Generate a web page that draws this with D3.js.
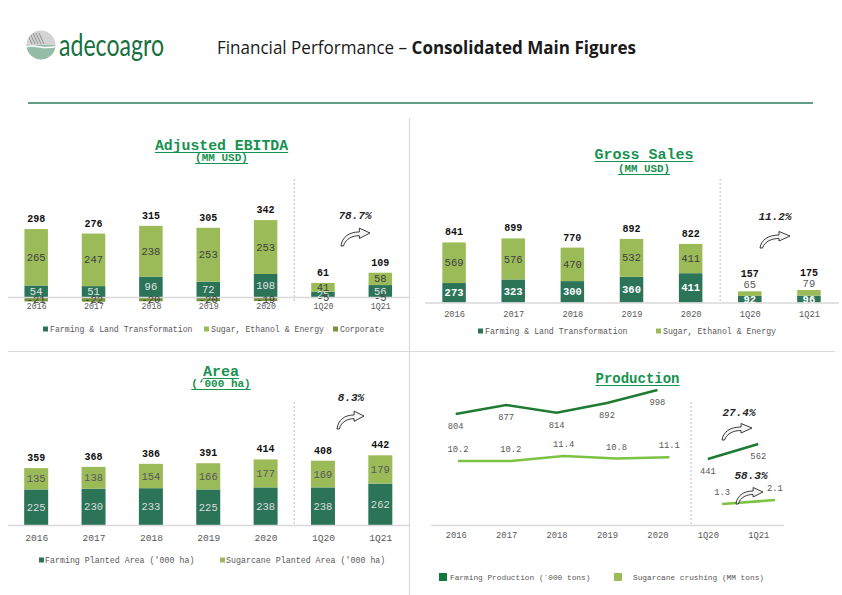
<!DOCTYPE html>
<html><head><meta charset="utf-8">
<script src="https://cdn.jsdelivr.net/npm/d3@7/dist/d3.min.js"></script>
<style>body{margin:0;background:#fff}svg{display:block}</style>
</head><body>
<svg id="c" width="842" height="595"></svg>
<script>
// ---------------- DATA ----------------
const periods = ["2016","2017","2018","2019","2020","1Q20","1Q21"];
// Adjusted EBITDA (MM USD)
const ebitdaFarming   = [54, 51, 96, 72, 108, 25, 56];
const ebitdaSugar     = [265, 247, 238, 253, 253, 41, 58];
const ebitdaCorporate = [-21, -22, -20, -20, -19, -5, -5];
const ebitdaTotal     = [298, 276, 315, 305, 342, 61, 109];
const ebitdaGrowth = "78.7%";
// Gross Sales (MM USD)
const salesFarming = [273, 323, 300, 360, 411, 92, 96];
const salesSugar   = [569, 576, 470, 532, 411, 65, 79];
const salesTotal   = [841, 899, 770, 892, 822, 157, 175];
const salesGrowth = "11.2%";
// Area ('000 ha)
const areaFarming   = [225, 230, 233, 225, 238, 238, 262];
const areaSugarcane = [135, 138, 154, 166, 177, 169, 179];
const areaTotal     = [359, 368, 386, 391, 414, 408, 442];
const areaGrowth = "8.3%";
// Production
const farmingProduction = [804, 877, 814, 892, 998, 441, 562];
const sugarcaneCrushing = [10.2, 10.2, 11.4, 10.8, 11.1, 1.3, 2.1];
const farmingGrowth = "27.4%";
const crushingGrowth = "58.3%";

// ---------------- STYLE ----------------
const C = {
  dark: "#2b7458", light: "#9bbb59", corp: "#77933c",
  title: "#16924f", axis: "#d9d9d9", grid: "#d9d9d9", text: "#595959",
  lineDark: "#1f7a33", lineLight: "#7cc243"
};
const MONO = "'Liberation Mono','Courier New',monospace";
const svg = d3.select("#c");

// ---------------- HEADER ----------------
const defs = svg.append("defs");
defs.append("clipPath").attr("id","logoClip").append("circle").attr("cx",41).attr("cy",45).attr("r",14.5);
const logo = svg.append("g").attr("clip-path","url(#logoClip)");
d3.range(30, 61, 2).forEach(yy => {
  logo.append("line").attr("x1",25).attr("x2",57).attr("y1",yy).attr("y2",yy)
    .attr("stroke", yy < 45 ? "#a8a8a8" : "#2b7a4e").attr("stroke-width",1.1);
});
logo.append("path").attr("d","M26,47 C34,43 44,51 57,46").attr("fill","none").attr("stroke","#fff").attr("stroke-width",1.5);
d3.range(27, 40, 3).forEach(xx => {
  logo.append("line").attr("x1",xx).attr("x2",xx+5).attr("y1",33).attr("y2",44)
    .attr("stroke","#777").attr("stroke-width",0.7);
});
svg.append("text").attr("x",59).attr("y",56).attr("font-family","Lato, 'Open Sans', sans-serif")
  .attr("font-size",31).attr("fill","#17703f").attr("textLength",105).attr("lengthAdjust","spacingAndGlyphs")
  .text("adecoagro");
const head = svg.append("text").attr("x",217).attr("y",54).attr("font-family","'Open Sans', Lato, sans-serif")
  .attr("font-size",17.5).attr("fill","#1a1a1a");
head.append("tspan").text("Financial Performance – ");
head.append("tspan").attr("font-weight","bold").text("Consolidated Main Figures");
head.attr("textLength",419).attr("lengthAdjust","spacingAndGlyphs");
svg.append("line").attr("x1",28).attr("x2",813).attr("y1",103).attr("y2",103)
  .attr("stroke","#2e7d5a").attr("stroke-width",1.6);

// panel dividers
svg.append("line").attr("x1",409.5).attr("x2",409.5).attr("y1",118).attr("y2",595).attr("stroke",C.grid).attr("stroke-width",1.2);
svg.append("line").attr("x1",8).attr("x2",835).attr("y1",351.5).attr("y2",351.5).attr("stroke",C.grid).attr("stroke-width",1.2);

// ---------------- HELPERS ----------------
function title(cx, y, txt, size) {
  const t = svg.append("text").attr("x",cx).attr("y",y).attr("text-anchor","middle")
    .attr("font-family",MONO).attr("font-weight","bold").attr("font-size",size).attr("fill",C.title).text(txt);
  const w = t.node().getComputedTextLength();
  svg.append("line").attr("x1",cx-w/2).attr("x2",cx+w/2).attr("y1",y+2.5).attr("y2",y+2.5)
    .attr("stroke",C.title).attr("stroke-width",1.2);
}
function arrow(tailX, tailY, tipX, tipY) {
  const sx = (tipX - tailX) / 30, sy = (tailY - tipY) / 12;
  svg.append("path")
    .attr("d","M0,14 C1,6 8,1 19,1 L19,-2.5 L30,2 L19,7 L19,4.5 C12,4.5 5,7 2.5,14 Z")
    .attr("transform",`translate(${tailX},${tailY - 14*sy}) scale(${sx},${sy})`)
    .attr("fill","#f4f4f4").attr("stroke","#262626").attr("stroke-width",0.9)
    .attr("vector-effect","non-scaling-stroke");
}
function pct(cx, y, txt) {
  svg.append("text").attr("x",cx).attr("y",y).attr("text-anchor","middle").attr("font-family",MONO)
    .attr("font-weight","bold").attr("font-style","italic").attr("font-size",11).attr("fill","#262626").text(txt);
}
function dashed(x, y1, y2) {
  svg.append("line").attr("x1",x).attr("x2",x).attr("y1",y1).attr("y2",y2)
    .attr("stroke","#c8c8c8").attr("stroke-width",1.2).attr("stroke-dasharray","2,2");
}
function legend(items, y, size, fs) {
  items.forEach(it => {
    svg.append("rect").attr("x",it.x).attr("y",y - size + 0.5).attr("width",size).attr("height",size).attr("fill",it.color);
    svg.append("text").attr("x",it.tx).attr("y",y + 1).attr("font-family",MONO).attr("font-size",fs)
      .attr("fill",C.text).text(it.label);
  });
}
function xAxis(x, yPos, pad, fs) {
  const g = svg.append("g").attr("transform",`translate(0,${yPos})`)
    .call(d3.axisBottom(x).tickSize(0).tickPadding(pad));
  g.select(".domain").attr("stroke",C.axis).attr("stroke-width",1.5);
  g.selectAll("text").attr("font-family",MONO).attr("font-size",fs).attr("fill",C.text);
  return g;
}
function stacked(o) {
  const rows = periods.map((p,i) => { const r = {cat:p, i}; o.series.forEach(s => r[s.key] = s.values[i]); return r; });
  const layers = d3.stack().keys(o.series.map(s => s.key)).offset(d3.stackOffsetDiverging)(rows);
  const bw = o.bw;
  layers.forEach((layer, li) => {
    const s = o.series[li];
    svg.append("g").selectAll("rect").data(layer).join("rect")
      .attr("x", d => o.x(d.data.cat) - bw/2).attr("width", bw)
      .attr("y", d => o.y(Math.max(d[0], d[1])))
      .attr("height", d => Math.abs(o.y(d[0]) - o.y(d[1])))
      .attr("fill", s.color);
  });
  xAxis(o.x, o.y(0), o.pad, o.axisFs);
  // segment labels
  const tops = rows.map(r => d3.max(layers, l => Math.max(l[r.i][0], l[r.i][1])));
  const shifted = rows.map(() => false);
  layers.forEach((layer, li) => {
    const s = o.series[li];
    layer.forEach((d, i) => {
      const y0 = o.y(d[0]), y1 = o.y(d[1]);
      const h = Math.abs(y1 - y0);
      let cy = (y0 + y1) / 2 + 3.6, col = s.lab, fw = s.fw || "normal";
      if (o.smallAbove && h < 8 && s.values[i] > 0 && d[1] === tops[i]) {
        cy = o.y(tops[i]) - 3; col = C.text; fw = "normal"; shifted[i] = true;
      }
      svg.append("text").attr("x", o.x(d.data.cat)).attr("y", cy).attr("text-anchor","middle")
        .attr("font-family",MONO).attr("font-size",o.segFs).attr("font-weight",fw).attr("fill",col)
        .text(s.values[i]);
    });
  });
  // totals
  rows.forEach((r, i) => {
    const ty = o.y(tops[i]) - (shifted[i] ? 14 : 7);
    svg.append("text").attr("x", o.x(r.cat)).attr("y", ty).attr("text-anchor","middle")
      .attr("font-family",MONO).attr("font-size",10).attr("font-weight","bold").attr("fill","#111")
      .text(o.totals[i]);
  });
}

// ---------------- ADJUSTED EBITDA ----------------
title(221.5, 150, "Adjusted EBITDA", 14.8);
title(221.5, 161, "(MM USD)", 11);
const xE = d3.scalePoint().domain(periods).range([7.5, 409]).padding(0.5);
const yE = d3.scaleLinear().domain([0, 400]).range([297, 211.8]);
stacked({
  x: xE, y: yE, bw: 23.5, pad: 6.5, axisFs: 8.3, segFs: 10.5, totals: ebitdaTotal,
  series: [
    {key:"farm", values: ebitdaFarming, color: C.dark, lab: "#e4e4e4"},
    {key:"sugar", values: ebitdaSugar, color: C.light, lab: "#404040"},
    {key:"corp", values: ebitdaCorporate, color: C.corp, lab: "#404040"}
  ]
});
dashed((xE("2020") + xE("1Q20")) / 2, 179, 303);
pct(355, 219, ebitdaGrowth);
arrow(341, 246, 370, 233);
legend([
  {x:43, tx:50, color:C.dark, label:"Farming & Land Transformation"},
  {x:204, tx:211, color:C.light, label:"Sugar, Ethanol & Energy"},
  {x:333, tx:340, color:C.corp, label:"Corporate"}
], 331, 5, 8.2);

// ---------------- GROSS SALES ----------------
title(644, 159, "Gross Sales", 15);
title(644, 172, "(MM USD)", 10.8);
const xS = d3.scalePoint().domain(periods).range([424.5, 838.5]).padding(0.5);
const yS = d3.scaleLinear().domain([0, 1000]).range([302.5, 231.2]);
stacked({
  x: xS, y: yS, bw: 23.5, pad: 8, axisFs: 8.7, segFs: 10.5, totals: salesTotal, smallAbove: true,
  series: [
    {key:"farm", values: salesFarming, color: C.dark, lab: "#ffffff", fw: "bold"},
    {key:"sugar", values: salesSugar, color: C.light, lab: "#404040"}
  ]
});
dashed((xS("2020") + xS("1Q20")) / 2, 179, 303);
pct(775, 220, salesGrowth);
arrow(760, 248, 790, 236);
legend([
  {x:478, tx:485, color:C.dark, label:"Farming & Land Transformation"},
  {x:656, tx:663, color:C.light, label:"Sugar, Ethanol & Energy"}
], 333, 5, 8.2);

// ---------------- AREA ----------------
title(221, 376, "Area", 15);
title(221, 387, "(‘000 ha)", 11);
const xA = d3.scalePoint().domain(periods).range([7.5, 409]).padding(0.5);
const yA = d3.scaleLinear().domain([0, 500]).range([525, 446]);
stacked({
  x: xA, y: yA, bw: 24, pad: 9, axisFs: 9.6, segFs: 10.5, totals: areaTotal,
  series: [
    {key:"farm", values: areaFarming, color: C.dark, lab: "#dcdcdc"},
    {key:"sugar", values: areaSugarcane, color: C.light, lab: "#595959"}
  ]
});
dashed((xA("2020") + xA("1Q20")) / 2, 402, 525);
pct(351, 401, areaGrowth);
arrow(337, 429, 364, 416);
legend([
  {x:39, tx:45, color:C.dark, label:"Farming Planted Area ('000 ha)"},
  {x:220, tx:226, color:C.light, label:"Sugarcane Planted Area ('000 ha)"}
], 562, 5, 8.3);

// ---------------- PRODUCTION ----------------
title(637.5, 383, "Production", 14);
const xP = d3.scalePoint().domain(periods).range([430.5, 783.5]).padding(0.5);
const xPs = d3.scalePoint().domain(periods).range([431.6, 801.4]).padding(0.5);
const yPf = d3.scaleLinear().domain([0, 1000]).range([513.7, 389.7]);
const yPs = d3.scaleLinear().domain([0, 12]).range([503.5, 453.5]);
const yPsq = d3.scaleLinear().domain([0, 3]).range([510.5, 495.5]);
xAxis(xP, 525, 6.5, 8.8);
dashed(xP("1Q20") - xP.step() / 3, 402, 525);
const fData = periods.map((p,i) => ({p, v: farmingProduction[i], q: i >= 5}));
const sData = periods.map((p,i) => ({p, v: sugarcaneCrushing[i], q: i >= 5}));
const lineF = d3.line().x(d => xP(d.p)).y(d => yPf(d.v));
const lineS = d3.line().x(d => xPs(d.p)).y(d => d.q ? yPsq(d.v) : yPs(d.v));
[fData.filter(d => !d.q), fData.filter(d => d.q)].forEach(seg =>
  svg.append("path").attr("d", lineF(seg)).attr("fill","none").attr("stroke",C.lineDark).attr("stroke-width",2.6));
[sData.filter(d => !d.q), sData.filter(d => d.q)].forEach(seg =>
  svg.append("path").attr("d", lineS(seg)).attr("fill","none").attr("stroke",C.lineLight).attr("stroke-width",2.6));
svg.append("g").selectAll("text").data(fData).join("text")
  .attr("x", d => xP(d.p)).attr("y", d => yPf(d.v) + 15).attr("text-anchor","middle")
  .attr("font-family",MONO).attr("font-size",8.8).attr("fill",C.text).text(d => d.v);
svg.append("g").selectAll("text").data(sData).join("text")
  .attr("x", d => xPs(d.p)).attr("y", d => (d.q ? yPsq(d.v) : yPs(d.v)) - 9).attr("text-anchor","middle")
  .attr("font-family",MONO).attr("font-size",8.8).attr("fill",C.text).text(d => d3.format(".1f")(d.v));
pct(739, 416, farmingGrowth);
arrow(722, 440, 752, 428);
pct(751, 479, crushingGrowth);
arrow(736, 504, 763, 492);
svg.append("rect").attr("x",439).attr("y",573).attr("width",8).attr("height",8).attr("fill","#0f7a3c");
svg.append("text").attr("x",450).attr("y",580).attr("font-family",MONO).attr("font-size",7.8).attr("fill",C.text)
  .text("Farming Production (´000 tons)");
svg.append("rect").attr("x",614).attr("y",573).attr("width",8).attr("height",8).attr("fill",C.light);
svg.append("text").attr("x",633).attr("y",580).attr("font-family",MONO).attr("font-size",7.8).attr("fill",C.text)
  .text("Sugarcane crushing (MM tons)");
</script>
</body></html>
